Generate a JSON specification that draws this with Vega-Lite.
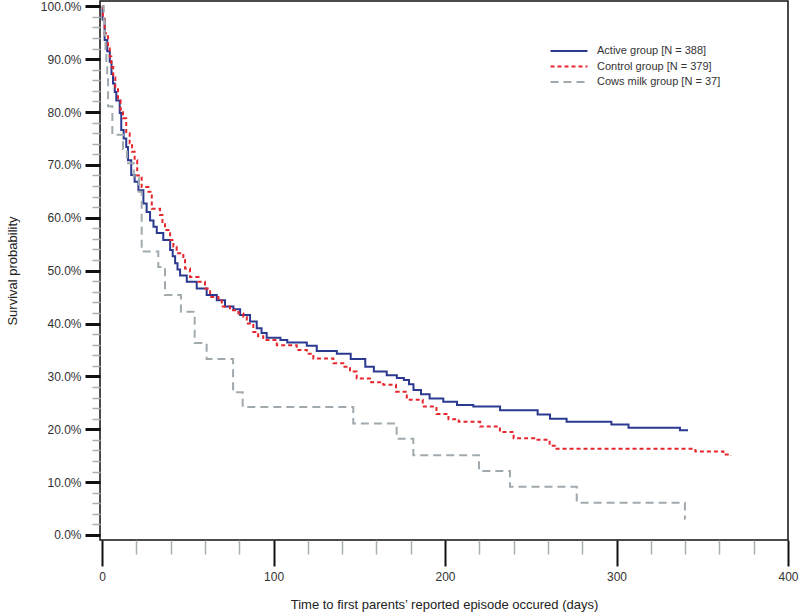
{
  "$schema": "https://vega.github.io/schema/vega-lite/v6.json",
  "autosize": {"type": "none"},
  "width": 688,
  "height": 539,
  "padding": {"left": 100, "top": 1, "right": 12, "bottom": 73},
  "background": "white",
  "config": {
    "view": {"stroke": "#111", "strokeWidth": 1.5},
    "font": "Liberation Sans",
    "axis": {"labelFont": "Liberation Sans", "titleFont": "Liberation Sans", "labelColor": "#333", "titleColor": "#222", "titleFontWeight": "normal", "labelFontSize": 12, "titleFontSize": 13, "domain": false, "grid": false, "labelFlush": false}
  },
  "datasets": {
    "km": [
      {"g": "Active group [N = 388]", "t": 0, "s": 1.0},
      {"g": "Active group [N = 388]", "t": 0.3, "s": 0.975},
      {"g": "Active group [N = 388]", "t": 1.5, "s": 0.936},
      {"g": "Active group [N = 388]", "t": 3.0, "s": 0.915},
      {"g": "Active group [N = 388]", "t": 4.5, "s": 0.895},
      {"g": "Active group [N = 388]", "t": 5.5, "s": 0.872},
      {"g": "Active group [N = 388]", "t": 6.4, "s": 0.854},
      {"g": "Active group [N = 388]", "t": 7.4, "s": 0.838},
      {"g": "Active group [N = 388]", "t": 8.3, "s": 0.822},
      {"g": "Active group [N = 388]", "t": 10.3, "s": 0.798},
      {"g": "Active group [N = 388]", "t": 11.2, "s": 0.766},
      {"g": "Active group [N = 388]", "t": 12.6, "s": 0.750},
      {"g": "Active group [N = 388]", "t": 14.1, "s": 0.734},
      {"g": "Active group [N = 388]", "t": 15.1, "s": 0.709},
      {"g": "Active group [N = 388]", "t": 17.0, "s": 0.681},
      {"g": "Active group [N = 388]", "t": 19.0, "s": 0.668},
      {"g": "Active group [N = 388]", "t": 21.2, "s": 0.652},
      {"g": "Active group [N = 388]", "t": 24.1, "s": 0.627},
      {"g": "Active group [N = 388]", "t": 26.0, "s": 0.611},
      {"g": "Active group [N = 388]", "t": 28.0, "s": 0.595},
      {"g": "Active group [N = 388]", "t": 30.0, "s": 0.583},
      {"g": "Active group [N = 388]", "t": 31.9, "s": 0.571},
      {"g": "Active group [N = 388]", "t": 35.7, "s": 0.558},
      {"g": "Active group [N = 388]", "t": 39.7, "s": 0.539},
      {"g": "Active group [N = 388]", "t": 41.2, "s": 0.527},
      {"g": "Active group [N = 388]", "t": 42.6, "s": 0.514},
      {"g": "Active group [N = 388]", "t": 44.0, "s": 0.502},
      {"g": "Active group [N = 388]", "t": 45.5, "s": 0.491},
      {"g": "Active group [N = 388]", "t": 49.4, "s": 0.479},
      {"g": "Active group [N = 388]", "t": 55.2, "s": 0.466},
      {"g": "Active group [N = 388]", "t": 61.0, "s": 0.454},
      {"g": "Active group [N = 388]", "t": 66.9, "s": 0.444},
      {"g": "Active group [N = 388]", "t": 71.7, "s": 0.432},
      {"g": "Active group [N = 388]", "t": 76.6, "s": 0.427},
      {"g": "Active group [N = 388]", "t": 80.5, "s": 0.416},
      {"g": "Active group [N = 388]", "t": 86.3, "s": 0.404},
      {"g": "Active group [N = 388]", "t": 90.2, "s": 0.391},
      {"g": "Active group [N = 388]", "t": 93.0, "s": 0.382},
      {"g": "Active group [N = 388]", "t": 96.0, "s": 0.373},
      {"g": "Active group [N = 388]", "t": 104.0, "s": 0.369},
      {"g": "Active group [N = 388]", "t": 108.0, "s": 0.364},
      {"g": "Active group [N = 388]", "t": 119.4, "s": 0.358},
      {"g": "Active group [N = 388]", "t": 125.2, "s": 0.348},
      {"g": "Active group [N = 388]", "t": 136.9, "s": 0.343},
      {"g": "Active group [N = 388]", "t": 145.0, "s": 0.333},
      {"g": "Active group [N = 388]", "t": 153.5, "s": 0.318},
      {"g": "Active group [N = 388]", "t": 158.5, "s": 0.309},
      {"g": "Active group [N = 388]", "t": 166.0, "s": 0.302},
      {"g": "Active group [N = 388]", "t": 171.9, "s": 0.297},
      {"g": "Active group [N = 388]", "t": 176.0, "s": 0.293},
      {"g": "Active group [N = 388]", "t": 179.0, "s": 0.285},
      {"g": "Active group [N = 388]", "t": 181.6, "s": 0.274},
      {"g": "Active group [N = 388]", "t": 186.0, "s": 0.266},
      {"g": "Active group [N = 388]", "t": 191.0, "s": 0.258},
      {"g": "Active group [N = 388]", "t": 199.0, "s": 0.252},
      {"g": "Active group [N = 388]", "t": 207.0, "s": 0.246},
      {"g": "Active group [N = 388]", "t": 216.5, "s": 0.243},
      {"g": "Active group [N = 388]", "t": 232.1, "s": 0.236},
      {"g": "Active group [N = 388]", "t": 254.0, "s": 0.228},
      {"g": "Active group [N = 388]", "t": 261.2, "s": 0.220},
      {"g": "Active group [N = 388]", "t": 270.9, "s": 0.214},
      {"g": "Active group [N = 388]", "t": 297.0, "s": 0.209},
      {"g": "Active group [N = 388]", "t": 307.0, "s": 0.203},
      {"g": "Active group [N = 388]", "t": 337.0, "s": 0.198},
      {"g": "Active group [N = 388]", "t": 341.7, "s": 0.198},
      {"g": "Control group [N = 379]", "t": 0, "s": 1.0},
      {"g": "Control group [N = 379]", "t": 0.5, "s": 0.98},
      {"g": "Control group [N = 379]", "t": 1.5, "s": 0.949},
      {"g": "Control group [N = 379]", "t": 3.5, "s": 0.923},
      {"g": "Control group [N = 379]", "t": 4.5, "s": 0.905},
      {"g": "Control group [N = 379]", "t": 5.4, "s": 0.885},
      {"g": "Control group [N = 379]", "t": 6.5, "s": 0.866},
      {"g": "Control group [N = 379]", "t": 7.7, "s": 0.847},
      {"g": "Control group [N = 379]", "t": 9.3, "s": 0.822},
      {"g": "Control group [N = 379]", "t": 10.8, "s": 0.805},
      {"g": "Control group [N = 379]", "t": 12.2, "s": 0.788},
      {"g": "Control group [N = 379]", "t": 14.1, "s": 0.760},
      {"g": "Control group [N = 379]", "t": 16.1, "s": 0.741},
      {"g": "Control group [N = 379]", "t": 17.5, "s": 0.725},
      {"g": "Control group [N = 379]", "t": 19.0, "s": 0.709},
      {"g": "Control group [N = 379]", "t": 20.5, "s": 0.680},
      {"g": "Control group [N = 379]", "t": 23.1, "s": 0.658},
      {"g": "Control group [N = 379]", "t": 27.0, "s": 0.649},
      {"g": "Control group [N = 379]", "t": 29.0, "s": 0.617},
      {"g": "Control group [N = 379]", "t": 33.8, "s": 0.605},
      {"g": "Control group [N = 379]", "t": 35.2, "s": 0.590},
      {"g": "Control group [N = 379]", "t": 36.7, "s": 0.577},
      {"g": "Control group [N = 379]", "t": 39.7, "s": 0.558},
      {"g": "Control group [N = 379]", "t": 41.6, "s": 0.545},
      {"g": "Control group [N = 379]", "t": 43.5, "s": 0.533},
      {"g": "Control group [N = 379]", "t": 47.4, "s": 0.520},
      {"g": "Control group [N = 379]", "t": 48.4, "s": 0.504},
      {"g": "Control group [N = 379]", "t": 51.3, "s": 0.488},
      {"g": "Control group [N = 379]", "t": 56.2, "s": 0.479},
      {"g": "Control group [N = 379]", "t": 60.0, "s": 0.466},
      {"g": "Control group [N = 379]", "t": 63.0, "s": 0.450},
      {"g": "Control group [N = 379]", "t": 67.8, "s": 0.447},
      {"g": "Control group [N = 379]", "t": 69.8, "s": 0.432},
      {"g": "Control group [N = 379]", "t": 74.6, "s": 0.425},
      {"g": "Control group [N = 379]", "t": 79.5, "s": 0.419},
      {"g": "Control group [N = 379]", "t": 82.4, "s": 0.413},
      {"g": "Control group [N = 379]", "t": 84.4, "s": 0.400},
      {"g": "Control group [N = 379]", "t": 88.2, "s": 0.384},
      {"g": "Control group [N = 379]", "t": 91.0, "s": 0.376},
      {"g": "Control group [N = 379]", "t": 94.0, "s": 0.369},
      {"g": "Control group [N = 379]", "t": 101.9, "s": 0.359},
      {"g": "Control group [N = 379]", "t": 113.5, "s": 0.350},
      {"g": "Control group [N = 379]", "t": 119.4, "s": 0.343},
      {"g": "Control group [N = 379]", "t": 123.2, "s": 0.334},
      {"g": "Control group [N = 379]", "t": 134.9, "s": 0.325},
      {"g": "Control group [N = 379]", "t": 140.7, "s": 0.318},
      {"g": "Control group [N = 379]", "t": 144.6, "s": 0.309},
      {"g": "Control group [N = 379]", "t": 148.5, "s": 0.296},
      {"g": "Control group [N = 379]", "t": 157.0, "s": 0.289},
      {"g": "Control group [N = 379]", "t": 164.0, "s": 0.284},
      {"g": "Control group [N = 379]", "t": 171.4, "s": 0.271},
      {"g": "Control group [N = 379]", "t": 177.7, "s": 0.256},
      {"g": "Control group [N = 379]", "t": 187.0, "s": 0.243},
      {"g": "Control group [N = 379]", "t": 195.0, "s": 0.229},
      {"g": "Control group [N = 379]", "t": 202.0, "s": 0.219},
      {"g": "Control group [N = 379]", "t": 208.0, "s": 0.214},
      {"g": "Control group [N = 379]", "t": 220.5, "s": 0.205},
      {"g": "Control group [N = 379]", "t": 232.0, "s": 0.195},
      {"g": "Control group [N = 379]", "t": 240.0, "s": 0.183},
      {"g": "Control group [N = 379]", "t": 252.0, "s": 0.180},
      {"g": "Control group [N = 379]", "t": 261.0, "s": 0.169},
      {"g": "Control group [N = 379]", "t": 265.0, "s": 0.163},
      {"g": "Control group [N = 379]", "t": 346.0, "s": 0.158},
      {"g": "Control group [N = 379]", "t": 362.3, "s": 0.152},
      {"g": "Control group [N = 379]", "t": 366.6, "s": 0.150},
      {"g": "Cows milk group [N = 37]", "t": 0, "s": 1.0},
      {"g": "Cows milk group [N = 37]", "t": 1.0, "s": 0.973},
      {"g": "Cows milk group [N = 37]", "t": 1.5, "s": 0.946},
      {"g": "Cows milk group [N = 37]", "t": 2.0, "s": 0.919},
      {"g": "Cows milk group [N = 37]", "t": 2.5, "s": 0.892},
      {"g": "Cows milk group [N = 37]", "t": 3.0, "s": 0.865},
      {"g": "Cows milk group [N = 37]", "t": 3.5, "s": 0.811},
      {"g": "Cows milk group [N = 37]", "t": 6.0, "s": 0.757},
      {"g": "Cows milk group [N = 37]", "t": 12.2, "s": 0.730},
      {"g": "Cows milk group [N = 37]", "t": 14.5, "s": 0.703},
      {"g": "Cows milk group [N = 37]", "t": 18.5, "s": 0.676},
      {"g": "Cows milk group [N = 37]", "t": 21.5, "s": 0.649},
      {"g": "Cows milk group [N = 37]", "t": 23.1, "s": 0.536},
      {"g": "Cows milk group [N = 37]", "t": 32.8, "s": 0.507},
      {"g": "Cows milk group [N = 37]", "t": 36.7, "s": 0.454},
      {"g": "Cows milk group [N = 37]", "t": 46.0, "s": 0.422},
      {"g": "Cows milk group [N = 37]", "t": 54.0, "s": 0.363},
      {"g": "Cows milk group [N = 37]", "t": 61.0, "s": 0.333},
      {"g": "Cows milk group [N = 37]", "t": 76.4, "s": 0.270},
      {"g": "Cows milk group [N = 37]", "t": 82.0, "s": 0.242},
      {"g": "Cows milk group [N = 37]", "t": 146.5, "s": 0.211},
      {"g": "Cows milk group [N = 37]", "t": 171.8, "s": 0.182},
      {"g": "Cows milk group [N = 37]", "t": 181.5, "s": 0.151},
      {"g": "Cows milk group [N = 37]", "t": 219.8, "s": 0.121},
      {"g": "Cows milk group [N = 37]", "t": 237.9, "s": 0.091},
      {"g": "Cows milk group [N = 37]", "t": 276.8, "s": 0.061},
      {"g": "Cows milk group [N = 37]", "t": 339.9, "s": 0.030},
      {"g": "Cows milk group [N = 37]", "t": 340.0, "s": 0.030}
    ]
  },
  "data": {"name": "km"},
  "mark": {"type": "line", "interpolate": "step-after", "strokeWidth": 2},
  "encoding": {
    "x": {
      "field": "t", "type": "quantitative",
      "scale": {"domain": [-1.2, 400], "nice": false, "zero": false},
      "axis": {
        "title": "Time to first parents’ reported episode occured (days)",
        "values": [0,20,40,60,80,100,120,140,160,180,200,220,240,260,280,300,320,340,360,380,400],
        "labelExpr": "datum.value % 100 === 0 ? datum.label : ''",
        "tickSize": {"condition": {"test": "datum.value % 100 === 0", "value": 26}, "value": 14},
        "tickWidth": {"condition": {"test": "datum.value % 100 === 0", "value": 2}, "value": 1.5},
        "tickColor": {"condition": {"test": "datum.value % 100 === 0", "value": "#111"}, "value": "#a9b0b3"},
        "labelPadding": 5,
        "titlePadding": 16
      }
    },
    "y": {
      "field": "s", "type": "quantitative",
      "scale": {"domain": [-0.0095, 1.010], "nice": false, "zero": false},
      "axis": {
        "title": "Survival probability",
        "values": [0,0.02,0.04,0.06,0.08,0.1,0.12,0.14,0.16,0.18,0.2,0.22,0.24,0.26,0.28,0.3,0.32,0.34,0.36,0.38,0.4,0.42,0.44,0.46,0.48,0.5,0.52,0.54,0.56,0.58,0.6,0.62,0.64,0.66,0.68,0.7,0.72,0.74,0.76,0.78,0.8,0.82,0.84,0.86,0.88,0.9,0.92,0.94,0.96,0.98,1.0],
        "format": ".1%",
        "labelExpr": "round(datum.value*100) % 10 === 0 ? datum.label : ''",
        "tickSize": {"condition": {"test": "round(datum.value*100) % 10 === 0", "value": 15}, "value": 8},
        "tickWidth": {"condition": {"test": "round(datum.value*100) % 10 === 0", "value": 3}, "value": 1.5},
        "tickColor": {"condition": {"test": "round(datum.value*100) % 10 === 0", "value": "#111"}, "value": "#a9b0b3"},
        "labelPadding": 4,
        "titlePadding": 21
      }
    },
    "color": {
      "field": "g", "type": "nominal",
      "scale": {"domain": ["Active group [N = 388]", "Control group [N = 379]", "Cows milk group [N = 37]"], "range": ["#2b3990", "#e5262d", "#a0aaae"]},
      "legend": {"title": null, "orient": "none", "legendX": 463, "legendY": 44, "symbolType": "M-3.7,0H3.7", "symbolSize": 100, "symbolStrokeWidth": 2, "labelFontSize": 11, "labelFont": "Liberation Sans", "labelColor": "#333", "labelOffset": 22, "rowPadding": 4.5}
    },
    "strokeDash": {
      "field": "g", "type": "nominal",
      "scale": {"domain": ["Active group [N = 388]", "Control group [N = 379]", "Cows milk group [N = 37]"], "range": [[1, 0], [4, 3], [8, 5]]},
      "legend": null
    }
  }
}
